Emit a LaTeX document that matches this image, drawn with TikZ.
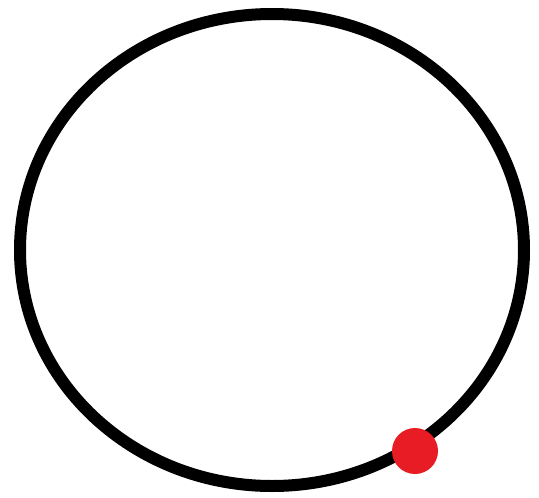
\documentclass[tikz,border=0pt]{standalone}
\usepackage{tikz}
\definecolor{dotred}{RGB}{232,28,36}
\tikzset{
  ring/.style={draw=black, line width=12pt},
  reddot/.style={circle, fill=dotred, minimum size=46pt, inner sep=0pt}
}

\begin{document}
\begin{tikzpicture}[x=1pt, y=-1pt]
\useasboundingbox (0,0) rectangle (539,498);
\draw[ring] (272,250) ellipse [x radius=252, y radius=236];
\node[reddot] (p) at (415,451) {};
\end{tikzpicture}
\end{document}
